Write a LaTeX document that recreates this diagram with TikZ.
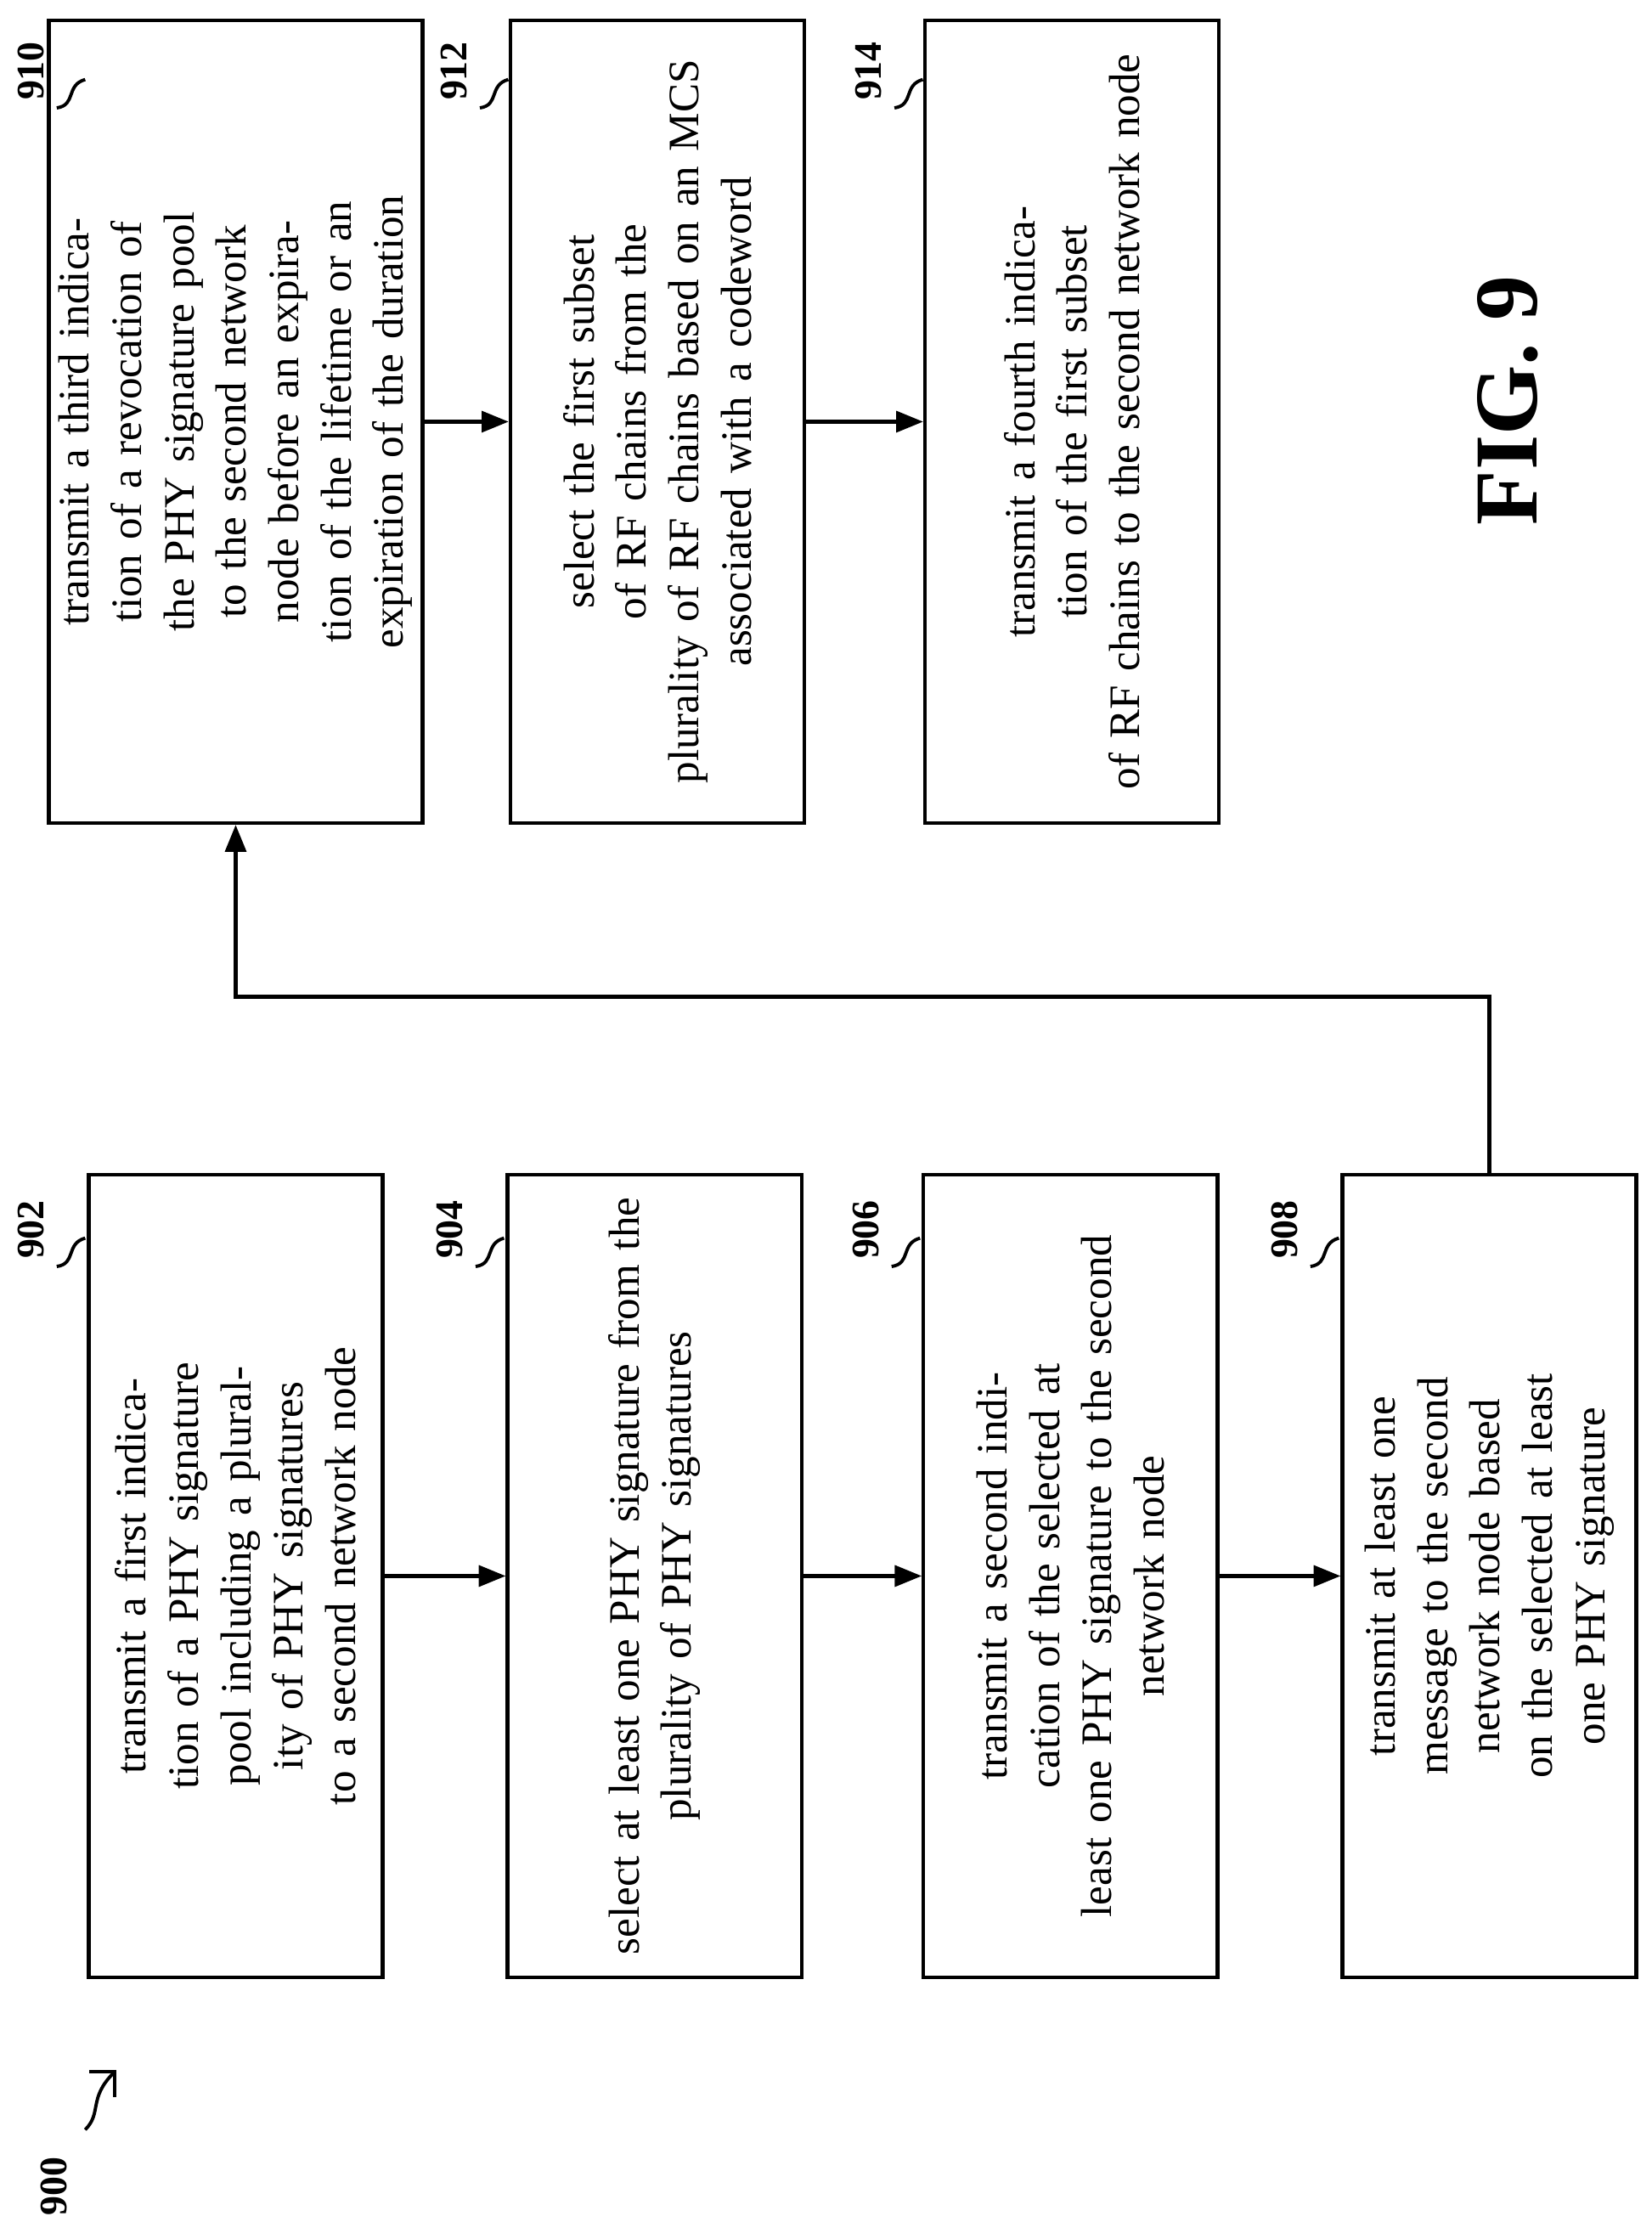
\documentclass[tikz,border=0pt]{standalone}
\usepackage{fontspec}
\setmainfont{Liberation Serif}
\usetikzlibrary{arrows.meta}

\begin{document}
\begin{tikzpicture}[x=0.01667cm,y=-0.01667cm]
    \tikzstyle{stage} = [draw,line width=1.2pt,rotate=90,minimum width=9.42cm,minimum height=3.45cm,text width=9cm,align=center,font=\fontsize{14.5}{17.5}\selectfont]
    \tikzstyle{num} = [rotate=90,font=\bfseries\fontsize{13}{15}\selectfont]
    \tikzstyle{flow} = [line width=1.2pt,-{Triangle[length=9pt,width=7pt]}]
    \useasboundingbox (0,0) rectangle (1163,1565);

    \node[stage] (b902) at (166,1110) {transmit a first indication of a PHY signature\\ pool including a plurality of PHY signatures\\ to a second network node};
    \node[stage] (b904) at (461,1110) {select at least one PHY signature from the\\ plurality of PHY signatures};
    \node[stage] (b906) at (754,1110) {transmit a second indication of the selected at\\ least one PHY signature to the second\\ network node};
    \node[stage] (b908) at (1049,1110) {transmit at least one message to the second\\ network node based on the selected at least\\ one PHY signature};

    \node[stage] (b910) at (166,297) {transmit a third indication of a revocation of\\ the PHY signature pool to the second network\\ node before an expiration of the lifetime or an\\ expiration of the duration};
    \node[stage] (b912) at (463,297) {select the first subset of RF chains from the\\ plurality of RF chains based on an MCS\\ associated with a codeword};
    \node[stage] (b914) at (755,297) {transmit a fourth indication of the first subset\\ of RF chains to the second network node};

    \draw[flow] (b902) -- (b904);
    \draw[flow] (b904) -- (b906);
    \draw[flow] (b906) -- (b908);
    \draw[flow] (b910) -- (b912);
    \draw[flow] (b912) -- (b914);
    \coordinate (elbow) at (0,702);
    \draw[flow] (b908.east) -- (b908.east |- elbow) -| (b910.west);

    % reference numerals
    \node[num] (n902) at (22,866) {902};
    \node[num] (n904) at (317,866) {904};
    \node[num] (n906) at (610,866) {906};
    \node[num] (n908) at (905,866) {908};
    \node[num] (n910) at (22,50) {910};
    \node[num] (n912) at (320,50) {912};
    \node[num] (n914) at (612,50) {914};
    \foreach \x/\y in {40/892, 335/892, 628/892, 923/892, 40/76, 338/76, 630/76}
        \draw[line width=1.1pt] (\x,\y) .. controls (\x+14,\y-2) and (\x+6,\y-16) .. (\x+20,\y-20);

    \node[num] (n900) at (38,1540) {900};
    \draw[line width=1.1pt,-{Straight Barb[length=6pt]}] (60,1500) .. controls (72,1488) and (62,1478) .. (82,1458);

    \node[rotate=90,font=\bfseries\fontsize{30}{34}\selectfont] (fig) at (1062,282) {FIG. 9};
\end{tikzpicture}
\end{document}
